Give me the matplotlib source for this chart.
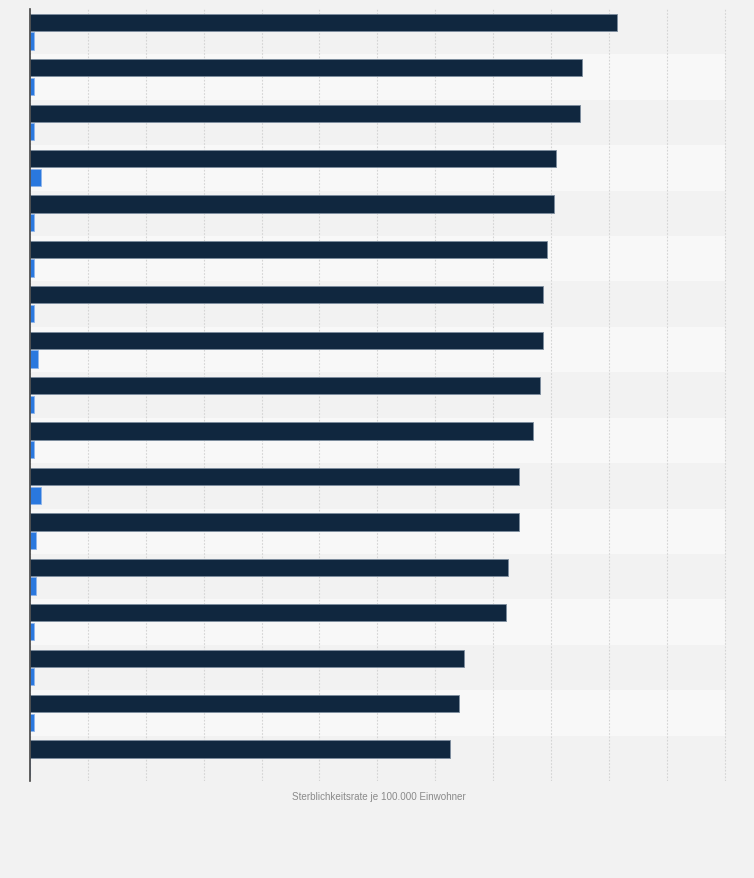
import matplotlib
matplotlib.use('Agg')
import matplotlib.pyplot as plt
import numpy as np

# Werte (Skala 0-300, keine Beschriftung sichtbar)
rows = list(range(1, 18))
dark_values = [253.6, 238.4, 237.7, 227.2, 226.2, 223.3, 221.6, 221.6, 220.3,
               217.1, 211.3, 211.3, 206.5, 205.6, 187.5, 185.2, 181.3]
blue_values = [1.6, 1.6, 1.6, 4.7, 1.6, 1.6, 1.6, 3.6, 1.6,
               1.6, 4.7, 2.6, 2.6, 1.6, 1.6, 1.6, 0.0]
x_ticks = list(range(0, 301, 25))
x_label = 'Sterblichkeitsrate je 100.000 Einwohner'

bg = '#f2f2f2'
fig = plt.figure(figsize=(7.54, 8.79), dpi=100, facecolor=bg)
ax = fig.add_axes([30 / 754, 1 - 782 / 879, 697 / 754, 772 / 879])
ax.set_facecolor(bg)

y = np.arange(len(rows))

# abwechselnde Zeilenhintergruende
for i in y:
    ax.axhspan(i - 0.5, i + 0.5, xmax=300 / 301, color=bg if i % 2 == 0 else '#f8f8f8',
               zorder=0, lw=0)

ax.barh(y - 0.205, dark_values, height=0.38, color='#10273f',
        edgecolor='#7d8d9e', linewidth=0.6, zorder=3)
ax.barh(y + 0.205, blue_values, height=0.38, color='#2a78de',
        edgecolor='#8fb5ea', linewidth=0.6, zorder=3)

ax.set_xlim(0, 301)
ax.set_ylim(len(rows) - 0.5, -0.5)
ax.set_xticks(x_ticks)
ax.set_yticks([])
ax.tick_params(axis='x', length=0, labelbottom=False)
ax.grid(axis='x', color='#d4d4d4', linestyle=(0, (1.5, 1.5)), linewidth=0.8, zorder=1)

for side in ['top', 'right', 'bottom']:
    ax.spines[side].set_visible(False)
ax.spines['left'].set_color('#444444')
ax.spines['left'].set_linewidth(1.2)
ax.spines['left'].set_zorder(4)

ax.set_xlabel(x_label, fontsize=7.1, color='#8a8a8a', family='Liberation Sans', labelpad=7)

fig.savefig('out.png', dpi=100, facecolor=bg)
